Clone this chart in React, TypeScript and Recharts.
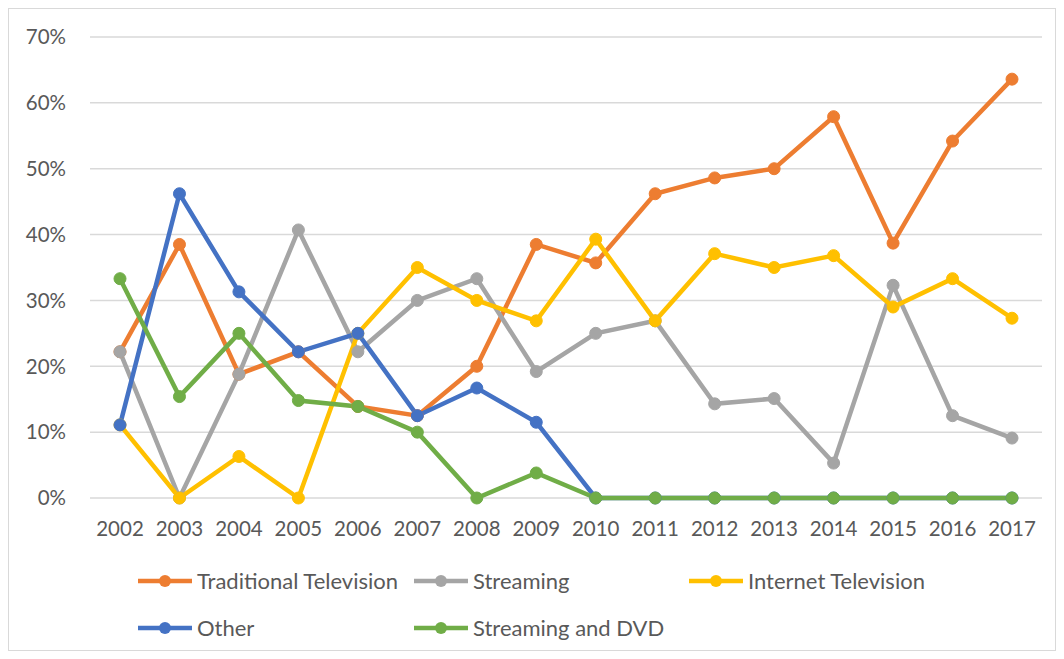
import { LineChart, Line, XAxis, YAxis, CartesianGrid } from 'recharts';

const YEARS = ['2002', '2003', '2004', '2005', '2006', '2007', '2008', '2009', '2010', '2011', '2012', '2013', '2014', '2015', '2016', '2017'];

const TRADITIONAL_TV = [22.2, 38.5, 18.8, 22.2, 13.9, 12.5, 20.0, 38.5, 35.7, 46.2, 48.6, 50.0, 57.9, 38.7, 54.2, 63.6];
const STREAMING = [22.2, 0, 18.8, 40.7, 22.2, 30.0, 33.3, 19.2, 25.0, 26.9, 14.3, 15.1, 5.3, 32.3, 12.5, 9.1];
const INTERNET_TV = [11.1, 0, 6.3, 0, 25.0, 35.0, 30.0, 26.9, 39.3, 26.9, 37.1, 35.0, 36.8, 29.0, 33.3, 27.3];
const OTHER = [11.1, 46.2, 31.3, 22.2, 25.0, 12.5, 16.7, 11.5, 0, 0, 0, 0, 0, 0, 0, 0];
const STREAMING_DVD = [33.3, 15.4, 25.0, 14.8, 13.9, 10.0, 0, 3.8, 0, 0, 0, 0, 0, 0, 0, 0];

const Y_TICKS = [0, 10, 20, 30, 40, 50, 60, 70];

const SERIES = [
    { key: 'traditional', label: 'Traditional Television', color: '#ED7D31', values: TRADITIONAL_TV },
    { key: 'streaming', label: 'Streaming', color: '#A5A5A5', values: STREAMING },
    { key: 'internet', label: 'Internet Television', color: '#FFC000', values: INTERNET_TV },
    { key: 'other', label: 'Other', color: '#4472C4', values: OTHER },
    { key: 'dvd', label: 'Streaming and DVD', color: '#70AD47', values: STREAMING_DVD },
];

const data = YEARS.map((year, i) => {
    const row: Record<string, string | number> = { year };
    SERIES.forEach((s) => {
        row[s.key] = s.values[i];
    });
    return row;
});

const FONT = 'Lato, "Open Sans", sans-serif';
const TEXT = '#595959';

function LegendItem({ label, color }: { label: string; color: string }) {
    return (
        <div style={{ display: 'flex', alignItems: 'center', height: 47 }}>
            <svg width={56} height={14} style={{ flex: 'none' }}>
                <line x1={1} y1={7} x2={55} y2={7} stroke={color} strokeWidth={4.5} />
                <circle cx={28} cy={7} r={6} fill={color} />
            </svg>
            <span style={{ marginLeft: 4, color: TEXT, fontSize: 22, whiteSpace: 'nowrap' }}>{label}</span>
        </div>
    );
}

export default function App() {
    return (
        <div
            style={{
                position: 'relative',
                width: 1046,
                height: 641,
                border: '1px solid #D9D9D9',
                background: '#fff',
                fontFamily: FONT,
            }}
        >
            <LineChart width={1046} height={641} data={data} margin={{ top: 28, right: 13, left: 0, bottom: 112 }}>
                <CartesianGrid vertical={false} stroke="#D9D9D9" strokeWidth={1.5} />
                <XAxis
                    dataKey="year"
                    axisLine={false}
                    tickLine={false}
                    padding={{ left: 30, right: 30 }}
                    height={40}
                    tickMargin={17}
                    tick={{ fill: TEXT, fontSize: 20.5, fontFamily: FONT }}
                />
                <YAxis
                    domain={[0, 70]}
                    ticks={Y_TICKS}
                    width={81}
                    axisLine={false}
                    tickLine={false}
                    tickMargin={18}
                    tickFormatter={(v: number) => `${v}%`}
                    tick={{ fill: TEXT, fontSize: 20.5, fontFamily: FONT }}
                />
                {SERIES.map((s) => (
                    <Line
                        key={s.key}
                        dataKey={s.key}
                        name={s.label}
                        stroke={s.color}
                        strokeWidth={4.5}
                        dot={{ r: 6, fill: s.color, stroke: s.color, strokeWidth: 1 }}
                        activeDot={false}
                        isAnimationActive={false}
                    />
                ))}
            </LineChart>

            {/* legend: two rows, three fixed-width columns like the Excel original */}
            <div
                style={{
                    position: 'absolute',
                    left: 128,
                    top: 548,
                    display: 'grid',
                    gridTemplateColumns: '276px 275px 276px',
                }}
            >
                {SERIES.map((s) => (
                    <LegendItem key={s.key} label={s.label} color={s.color} />
                ))}
            </div>
        </div>
    );
}
